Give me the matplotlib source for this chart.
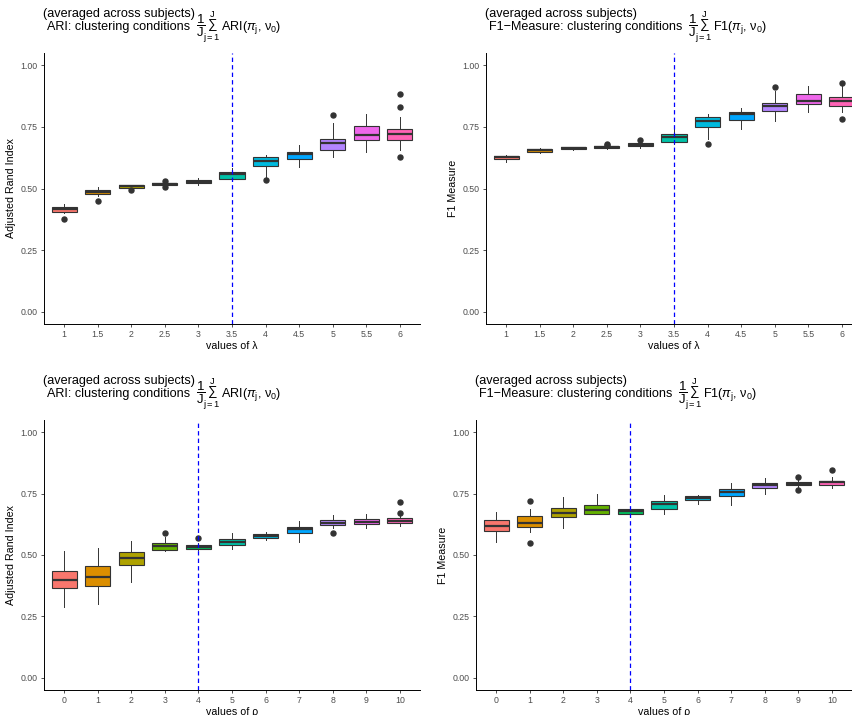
import matplotlib.pyplot as plt

plt.rcParams['font.family'] = ['Liberation Sans', 'DejaVu Sans']
plt.rcParams['mathtext.fontset'] = 'custom'
plt.rcParams['mathtext.rm'] = 'Liberation Sans'
plt.rcParams['mathtext.it'] = 'Liberation Sans:italic'
plt.rcParams['mathtext.bf'] = 'Liberation Sans:bold'

lambda_labels = ['1', '1.5', '2', '2.5', '3', '3.5', '4', '4.5', '5', '5.5', '6']
rho_labels = ['0', '1', '2', '3', '4', '5', '6', '7', '8', '9', '10']
palette = ['#F8766D', '#DB8E00', '#AEA200', '#64B200', '#00BD5C', '#00C1A7',
           '#00BADE', '#00A6FF', '#B385FF', '#EF67EB', '#FF63B6']

# ARI vs lambda
ari_lam_lo = [0.400, 0.470, 0.499, 0.510, 0.514, 0.537, 0.548, 0.587, 0.629, 0.648, 0.656]
ari_lam_q1 = [0.406, 0.476, 0.503, 0.513, 0.524, 0.540, 0.591, 0.621, 0.656, 0.698, 0.698]
ari_lam_med = [0.416, 0.484, 0.509, 0.517, 0.528, 0.557, 0.613, 0.640, 0.683, 0.718, 0.723]
ari_lam_q3 = [0.425, 0.494, 0.513, 0.521, 0.533, 0.568, 0.628, 0.648, 0.702, 0.754, 0.742]
ari_lam_hi = [0.436, 0.506, 0.515, 0.524, 0.541, 0.584, 0.638, 0.677, 0.764, 0.804, 0.791]
ari_lam_out = [[0.375], [0.448], [0.493], [0.530, 0.506], [], [], [0.536], [], [0.799], [],
               [0.884, 0.829, 0.626]]

# F1 vs lambda
f1_lam_lo = [0.607, 0.644, 0.657, 0.661, 0.665, 0.682, 0.702, 0.740, 0.776, 0.811, 0.811]
f1_lam_q1 = [0.621, 0.649, 0.660, 0.664, 0.672, 0.690, 0.748, 0.779, 0.815, 0.845, 0.833]
f1_lam_med = [0.628, 0.655, 0.663, 0.668, 0.677, 0.710, 0.773, 0.804, 0.833, 0.857, 0.857]
f1_lam_q3 = [0.633, 0.660, 0.667, 0.672, 0.683, 0.723, 0.791, 0.812, 0.849, 0.884, 0.870]
f1_lam_hi = [0.638, 0.663, 0.669, 0.674, 0.690, 0.740, 0.804, 0.827, 0.895, 0.918, 0.915]
f1_lam_out = [[], [], [], [0.682, 0.675], [0.698], [], [0.679], [], [0.914], [],
              [0.928, 0.781]]

# ARI vs rho
ari_rho_lo = [0.287, 0.302, 0.390, 0.515, 0.520, 0.523, 0.560, 0.552, 0.611, 0.609, 0.618]
ari_rho_q1 = [0.365, 0.374, 0.458, 0.522, 0.523, 0.539, 0.568, 0.588, 0.621, 0.626, 0.632]
ari_rho_med = [0.397, 0.412, 0.486, 0.538, 0.531, 0.554, 0.576, 0.605, 0.632, 0.633, 0.640]
ari_rho_q3 = [0.436, 0.457, 0.514, 0.550, 0.539, 0.565, 0.584, 0.615, 0.641, 0.645, 0.649]
ari_rho_hi = [0.518, 0.527, 0.557, 0.575, 0.548, 0.590, 0.592, 0.640, 0.662, 0.667, 0.662]
ari_rho_out = [[], [], [], [0.590], [0.568], [], [], [], [0.590], [], [0.716, 0.673]]

# F1 vs rho
f1_rho_lo = [0.554, 0.595, 0.609, 0.666, 0.662, 0.668, 0.709, 0.702, 0.750, 0.779, 0.772]
f1_rho_q1 = [0.596, 0.615, 0.654, 0.666, 0.666, 0.689, 0.723, 0.739, 0.774, 0.784, 0.787]
f1_rho_med = [0.620, 0.632, 0.670, 0.683, 0.678, 0.709, 0.732, 0.755, 0.784, 0.791, 0.796]
f1_rho_q3 = [0.644, 0.658, 0.692, 0.704, 0.689, 0.721, 0.739, 0.769, 0.795, 0.798, 0.803]
f1_rho_hi = [0.677, 0.688, 0.735, 0.747, 0.697, 0.743, 0.746, 0.792, 0.813, 0.806, 0.819]
f1_rho_out = [[], [0.721, 0.550], [], [], [], [], [], [], [], [0.818, 0.764], [0.845]]

W, H = 852, 715
fig = plt.figure(figsize=(W / 100, H / 100), dpi=100)
renderer = fig.canvas.get_renderer()

DARK = '#333333'


def panel(box, labels, lo, q1, med, q3, hi, out, vline, ylabel, xlabel, metric, short):
    left, right, top, bottom = box
    ax = fig.add_axes([left / W, 1 - bottom / H, (right - left) / W, (bottom - top) / H])
    stats = []
    for i in range(len(labels)):
        stats.append(dict(whislo=lo[i], q1=q1[i], med=med[i], q3=q3[i], whishi=hi[i],
                          fliers=out[i]))
    pos = list(range(len(labels)))
    b = ax.bxp(stats, positions=pos, widths=0.75, patch_artist=True, showcaps=False,
               boxprops=dict(edgecolor=DARK, linewidth=0.8),
               medianprops=dict(color=DARK, linewidth=1.6, solid_capstyle='butt'),
               whiskerprops=dict(color=DARK, linewidth=0.7),
               flierprops=dict(marker='o', markerfacecolor=DARK, markeredgecolor=DARK,
                               markersize=3.6, linestyle='none'))
    for patch, c in zip(b['boxes'], palette):
        patch.set_facecolor(c)
    ax.axvline(vline, color='blue', linestyle=(0, (3.5, 2.5)), linewidth=0.9, zorder=5)
    ax.set_xlim(-0.6, len(labels) - 0.4)
    ax.set_ylim(-0.05, 1.05)
    ax.set_yticks([0, 0.25, 0.5, 0.75, 1.0])
    ax.set_yticklabels(['0.00', '0.25', '0.50', '0.75', '1.00'])
    ax.set_xticks(pos)
    ax.set_xticklabels(labels)
    for s in ['top', 'right']:
        ax.spines[s].set_visible(False)
    for s in ['left', 'bottom']:
        ax.spines[s].set_linewidth(0.7)
        ax.spines[s].set_color('black')
    ax.tick_params(labelsize=6.3, labelcolor='#4D4D4D', color='#333333', length=2.5,
                   width=0.6, pad=2)
    ax.set_ylabel(ylabel, fontsize=7.7, labelpad=3)
    ax.set_xlabel(xlabel, fontsize=7.7, labelpad=1)

    # two-line title with the formula on the second line
    fig.text((left - 1) / W, 1 - (top - 36) / H, '(averaged across subjects)',
             fontsize=9.1, va='baseline', ha='left')
    base = 1 - (top - 23) / H
    t2 = fig.text((left + 3) / W, base, metric + ': clustering conditions',
                  fontsize=9.1, va='baseline', ha='left')
    x = t2.get_window_extent(renderer).x1 + 6
    t3 = fig.text(x / W, base + 1 / H,
                  r'$\dfrac{1}{\mathrm{J}}\!\sum_{\mathrm{j=1}}^{\mathrm{J}}$',
                  fontsize=9.5, va='baseline', ha='left')
    x = t3.get_window_extent(renderer).x1
    fig.text(x / W, base, short + r'($\pi_{\mathrm{j}}$, $\mathrm{\nu_0}$)',
             fontsize=9.1, va='baseline', ha='left')
    return ax


panel((44, 420, 53, 324), lambda_labels, ari_lam_lo, ari_lam_q1, ari_lam_med, ari_lam_q3,
      ari_lam_hi, ari_lam_out, 5, 'Adjusted Rand Index', 'values of \u03bb', 'ARI', 'ARI')
panel((486, 862, 53, 324), lambda_labels, f1_lam_lo, f1_lam_q1, f1_lam_med, f1_lam_q3,
      f1_lam_hi, f1_lam_out, 5, 'F1 Measure', 'values of \u03bb', 'F1\u2212Measure', 'F1')
panel((44, 420, 420, 690), rho_labels, ari_rho_lo, ari_rho_q1, ari_rho_med, ari_rho_q3,
      ari_rho_hi, ari_rho_out, 4, 'Adjusted Rand Index', 'values of \u03c1', 'ARI', 'ARI')
panel((476, 852, 420, 690), rho_labels, f1_rho_lo, f1_rho_q1, f1_rho_med, f1_rho_q3,
      f1_rho_hi, f1_rho_out, 4, 'F1 Measure', 'values of \u03c1', 'F1\u2212Measure', 'F1')

fig.savefig('out.png', dpi=100)
